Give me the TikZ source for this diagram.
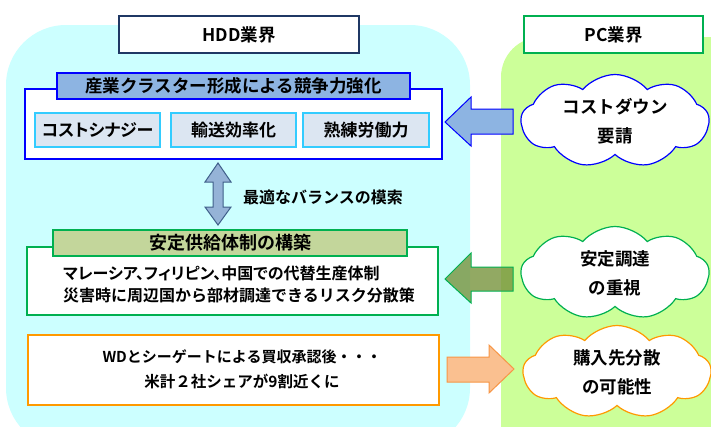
\documentclass[tikz,border=0pt]{standalone}
\usepackage{fontspec}
\setmainfont{Noto Sans CJK JP}[BoldFont={Noto Sans CJK JP Bold}]
\newfontfamily\propjp{Noto Sans CJK JP}[BoldFont={Noto Sans CJK JP Bold},RawFeature=+palt]
\usetikzlibrary{shapes.symbols}
\definecolor{cyanbg}{HTML}{CCFFFF}
\definecolor{greenbg}{HTML}{CCFF99}
\definecolor{navy}{HTML}{1F3864}
\definecolor{gline}{HTML}{00B050}
\definecolor{bline}{HTML}{0000FF}
\definecolor{btitle}{HTML}{8DB4E2}
\definecolor{subline}{HTML}{33CCFF}
\definecolor{subfill}{HTML}{DCE6F2}
\definecolor{gtitle}{HTML}{C3D69B}
\definecolor{oline}{HTML}{FF9900}
\definecolor{oarrow}{HTML}{FAC090}
\definecolor{oarrowline}{HTML}{F79646}
\definecolor{garrow}{HTML}{77933C}
\definecolor{darr}{HTML}{95B3D7}
\definecolor{darrline}{HTML}{3F5F8A}
\tikzset{
  hdr/.style={draw=#1, line width=1.3pt, fill=white, minimum height=37pt, inner sep=0pt, font=\fontsize{17.5}{20}\selectfont\bfseries},
  outerbox/.style={draw=#1, line width=2.4pt, fill=white, inner sep=0pt},
  titlebox/.style={draw=#1, line width=1.3pt, minimum height=26pt, inner sep=0pt, font=\fontsize{17.5}{19}\selectfont\bfseries},
  subbox/.style={draw=subline, line width=1.2pt, fill=subfill, minimum width=125pt, minimum height=34pt, inner sep=0pt, font=\fontsize{17}{19}\selectfont\bfseries},
  txt/.style={inner sep=0pt, font=\fontsize{16}{19}\selectfont\bfseries},
  cloudnode/.style={cloud, cloud puffs=9, cloud puff arc=100, cloud ignores aspect, draw=#1, line width=1.2pt, fill=white, minimum width=188pt, minimum height=93pt, inner sep=0pt, align=center, font=\fontsize{17.5}{29}\selectfont\bfseries},
  blockarrow/.style={line width=1pt}
}
\begin{document}
\begin{tikzpicture}[x=1pt,y=-1pt]
\useasboundingbox (0,0) rectangle (711,426);
\begin{scope}
\clip (0,0) rectangle (711,426);
\fill[cyanbg, rounded corners=60pt] (6,25) rectangle (470,448);
\fill[greenbg, rounded corners=40pt] (501,37) rectangle (770,470);
\end{scope}

% headers
\node[hdr=navy, minimum width=240pt] (hdd) at (239,34.5) {HDD業界};
\node[hdr=gline, minimum width=179pt] (pc) at (613.5,34.5) {PC業界};

% blue group
\node[outerbox=bline, minimum width=417pt, minimum height=70pt] (bbox) at (233.5,124) {};
\node[titlebox=bline, fill=btitle, minimum width=353pt] (btit) at (233.5,86) {産業クラスター形成による競争力強化};
\node[subbox] (s1) at (97.5,130) {\propjp\bfseries コストシナジー};
\node[subbox] (s2) at (233.5,130) {輸送効率化};
\node[subbox, minimum width=126pt] (s3) at (366,130) {熟練労働力};

% double arrow
\filldraw[fill=darr, draw=darrline, line width=1pt]
  (218,163) -- (231,182) -- (223,182) -- (223,207) -- (231,207) -- (218,225)
  -- (205,207) -- (213,207) -- (213,182) -- (205,182) -- cycle;
\node[txt, anchor=west] (bal) at (243,197) {最適なバランスの模索};

% green group
\node[outerbox=gline, minimum width=411pt, minimum height=68pt] (gbox) at (232.5,281) {};
\node[titlebox=gline, fill=gtitle, minimum width=354pt, font=\fontsize{18}{19}\selectfont\bfseries] (gtit) at (230,243) {安定供給体制の構築};
\node[txt, anchor=west, font=\propjp\fontsize{16}{19}\selectfont\bfseries] (g1) at (63,273) {マレーシア、フィリピン、中国での代替生産体制};
\node[txt, anchor=west] (g2) at (63,295) {災害時に周辺国から部材調達できるリスク分散策};

% orange group
\node[outerbox=oline, minimum width=411pt, minimum height=70pt] (obox) at (233.5,370) {};
\node[txt, font=\fontsize{15}{18}\selectfont\bfseries] (o1) at (242,357) {WDとシーゲートによる買収承認後・・・};
\node[txt, font=\fontsize{15.5}{18}\selectfont\bfseries] (o2) at (242,381) {米計２社シェアが9割近くに};

% clouds
\node[cloudnode=bline] (c1) at (615,121) {コストダウン\\要請};
\node[cloudnode=gline] (c2) at (615,273) {安定調達\\の重視};
\node[cloudnode=oline] (c3) at (617,372) {購入先分散\\の可能性};

% block arrows
\filldraw[blockarrow, fill=btitle, draw=bline]
  (445,122) -- (471,97) -- (471,109) -- (513,109) -- (513,134) -- (471,134) -- (471,146) -- cycle;
\filldraw[blockarrow, fill=garrow, fill opacity=0.8, draw=gline]
  (445,279) -- (471,253) -- (471,267) -- (513,267) -- (513,291) -- (471,291) -- (471,303) -- cycle;
\filldraw[blockarrow, fill=oarrow, draw=oarrowline]
  (514,369) -- (489,345) -- (489,357) -- (447,357) -- (447,382) -- (489,382) -- (489,393) -- cycle;
\end{tikzpicture}
\end{document}
